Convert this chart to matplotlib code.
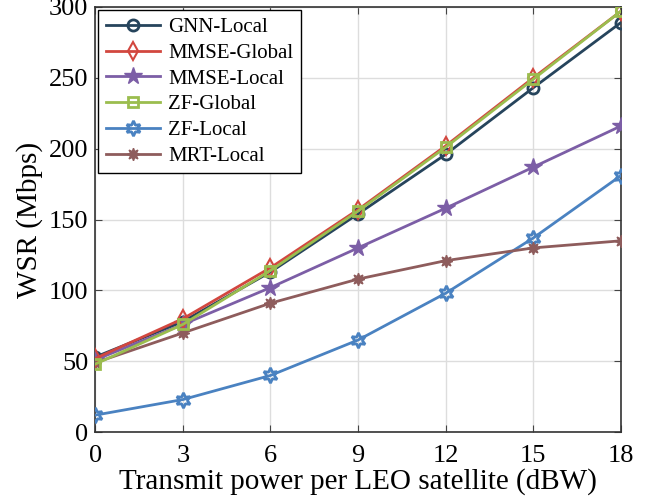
import matplotlib
matplotlib.use('Agg')
import matplotlib.pyplot as plt

# ── Data ──────────────────────────────────────────────────────────────────────
power = [0, 3, 6, 9, 12, 15, 18]

gnn_local   = [53, 78, 113, 154, 196, 243, 289]
mmse_global = [52, 80, 116, 157, 202, 250, 297]
mmse_local  = [51, 76, 102, 130, 158, 187, 216]
zf_global   = [48, 76, 114, 156, 201, 249, 297]
zf_local    = [12, 23, 40, 65, 98, 137, 181]
mrt_local   = [49, 70, 91, 108, 121, 130, 135]

plt.rcParams['font.family'] = 'Liberation Serif'
plt.rcParams['mathtext.fontset'] = 'stix'

fig = plt.figure(figsize=(6.57, 4.99), dpi=100)
ax = fig.add_axes([0.145, 0.134, 0.80, 0.852])

lw = 2.0
ax.plot(power, gnn_local, color='#26445c', lw=lw, marker='o', ms=8,
        mfc='none', mew=2, label='GNN-Local', zorder=3)
ax.plot(power, mmse_global, color='#d2473f', lw=lw, marker='d', ms=9,
        mfc='none', mew=1.5, label='MMSE-Global', zorder=4)
ax.plot(power, mmse_local, color='#7c5ea6', lw=lw, marker='*', ms=13,
        label='MMSE-Local', zorder=3)
ax.plot(power, zf_global, color='#9bbd4e', lw=lw, marker='s', ms=7,
        mfc='none', mew=2, label='ZF-Global', zorder=5)
ax.plot(power, zf_local, color='#4a82c1', lw=lw, marker=(6, 1, 0), ms=11,
        mfc='none', mew=2, label='ZF-Local', zorder=3)
ax.plot(power, mrt_local, color='#8e5c5c', lw=lw, marker=(8, 1, 0), ms=9,
        label='MRT-Local', zorder=3)

ax.set_xlim(0, 18)
ax.set_ylim(0, 300)
ax.set_xticks(power)
ax.set_yticks(range(0, 301, 50))
ax.grid(True, color='#dddddd', lw=1)
ax.set_axisbelow(True)
ax.tick_params(direction='in', length=5, labelsize=19, top=True, right=True,
               color='#444444')
ax.tick_params(axis='x', pad=9)
ax.tick_params(axis='y', pad=5)
for s in ax.spines.values():
    s.set_color('#333333')
    s.set_linewidth(1.2)

ax.set_xlabel('Transmit power per LEO satellite (dBW)', fontsize=21, labelpad=1)
ax.set_ylabel('WSR (Mbps)', fontsize=21, labelpad=4)

leg = ax.legend(loc='upper left', fontsize=15, handlelength=2.6,
                borderaxespad=0.15, labelspacing=0.3, fancybox=False,
                framealpha=1, borderpad=0.35, handletextpad=0.4)
leg.get_frame().set_edgecolor('black')
leg.get_frame().set_linewidth(1.0)

plt.savefig('out.png', dpi=100)
